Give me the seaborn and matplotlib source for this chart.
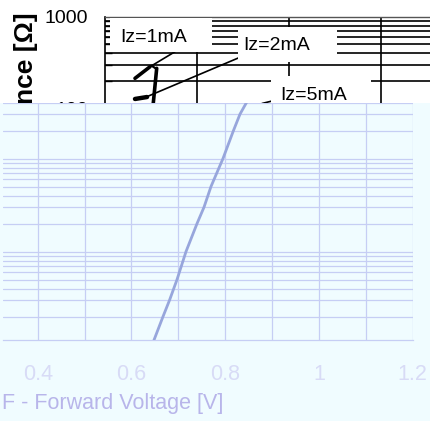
import matplotlib
matplotlib.use("Agg")
import matplotlib.pyplot as plt
import seaborn as sns
from matplotlib.patches import Rectangle
from matplotlib.ticker import FixedLocator, NullFormatter

# ---------------- data: lower chart (forward characteristic) ----------------
vf_volts = [0.6446, 0.6482, 0.6674, 0.6813, 0.6973, 0.7165, 0.7400, 0.7549,
            0.7698, 0.7954, 0.8178, 0.8317, 0.8456, 0.8552]
if_ma = [1.0, 1.12, 2, 3, 5, 10, 20, 30, 50, 100, 200, 300, 400, 500]
vf_ticks = [0.4, 0.6, 0.8, 1.0, 1.2]
vf_ticklabels = ["0.4", "0.6", "0.8", "1", "1.2"]
vf_minor = [0.5, 0.7, 0.9, 1.1]
vf_label = "F - Forward Voltage [V]"

# ---------------- data: upper chart (dynamic impedance, partly covered) ----------------
zz_x_grid = [1, 2, 3]
zz_major = [100, 1000]
zz_minor = [200, 300, 400, 500, 600, 700, 800, 900]
curve_thick_a_x = [0.326, 0.489]
curve_thick_a_y = [214, 286]
curve_thick_b_x = [0.562, 0.525, 0.52]
curve_thick_b_y = [275, 115.5, 100]
curve_blob_x = [0.326, 0.457]
curve_blob_y = [127.6, 134]
hook_x = [0.508, 0.562]
hook_y = [293, 270]
lead_1ma_x = [0.489, 0.761]
lead_1ma_y = [286, 417]
lead_2ma_x = [0.416, 1.5]
lead_2ma_y = [130, 374.6]
lead_5ma_x = [1.707, 1.859]
lead_5ma_y = [114, 124.3]
iz_labels = ["Iz=1mA", "Iz=2mA", "Iz=5mA"]
iz_label_x = [0.163, 1.5, 1.902]
iz_label_y = [531.8, 435.2, 124.3]
ylabel_top = "Zz - Dynamic Impedance [Ω]"

sns.set_theme(style="white")
plt.rcParams["font.family"] = ["Liberation Sans", "DejaVu Sans"]

W, H = 431, 421
fig = plt.figure(figsize=(W / 100, H / 100), dpi=100)
fig.patch.set_facecolor("white")


def frame(x0, y0, x1, y1):
    return [x0 / W, 1 - y1 / H, (x1 - x0) / W, (y1 - y0) / H]


# ---------------- upper (datasheet) axes ----------------
ax_t = fig.add_axes(frame(105, 16.8, 105 + 4 * 92, 16.8 + 2 * 91.9), zorder=0)
ax_t.set_facecolor("white")
ax_t.set_yscale("log")
ax_t.set_xlim(0, 4)
ax_t.set_ylim(10, 1000)
ax_t.yaxis.set_major_locator(FixedLocator(zz_major))
ax_t.yaxis.set_minor_locator(FixedLocator(zz_minor))
ax_t.yaxis.set_minor_formatter(NullFormatter())
ax_t.set_yticklabels([str(v) for v in zz_major])
ax_t.xaxis.set_major_locator(FixedLocator(zz_x_grid))
ax_t.set_xticklabels([])
ax_t.tick_params(axis="y", which="major", length=0, pad=12, labelsize=14, labelcolor="black")
ax_t.tick_params(axis="y", which="minor", direction="in", length=5, width=1, color="black", left=True)
ax_t.tick_params(axis="x", length=0)
ax_t.grid(True, which="both", axis="y", color="black", lw=1.2)
ax_t.grid(True, which="major", axis="x", color="black", lw=1.2)
ax_t.set_axisbelow(True)
for s in ["right", "bottom"]:
    ax_t.spines[s].set_visible(False)
ax_t.spines["left"].set_color("black")
ax_t.spines["left"].set_linewidth(1.2)
ax_t.spines["top"].set_color("#555555")
ax_t.spines["top"].set_linewidth(1.0)

for xs, ys, lw in [(curve_thick_a_x, curve_thick_a_y, 2.6),
                   (curve_thick_b_x, curve_thick_b_y, 2.6),
                   (curve_blob_x, curve_blob_y, 3.2),
                   (hook_x, hook_y, 1.6),
                   (lead_1ma_x, lead_1ma_y, 1.2),
                   (lead_2ma_x, lead_2ma_y, 1.2),
                   (lead_5ma_x, lead_5ma_y, 1.2)]:
    sns.lineplot(x=xs, y=ys, ax=ax_t, color="black", lw=lw, sort=False,
                 estimator=None, legend=False, zorder=2.5)

# white label backgrounds (pixel extents of the label boxes)
label_boxes_px = [(110, 18, 212, 52), (238, 27, 337, 62), (271, 76, 371, 112)]
for (x0, y0, x1, y1) in label_boxes_px:
    ax_t.add_patch(Rectangle((x0 / W, 1 - y1 / H), (x1 - x0) / W, (y1 - y0) / H,
                             transform=fig.transFigure, facecolor="white",
                             edgecolor="none", zorder=3))

for txt, xv, yv in zip(iz_labels, iz_label_x, iz_label_y):
    ax_t.text(xv, yv, txt, fontsize=14, color="black", ha="left", va="baseline", zorder=4)

fig.text(26 / W, 1 - 12 / H, ylabel_top, rotation=90, ha="center", va="top",
         fontsize=19, fontweight="bold", color="black", zorder=0.5)

# ---------------- cover for lower part ----------------
bg = "#f0fcff"
fig.add_artist(Rectangle((0, 0), 1, 1 - 102.5 / H, transform=fig.transFigure,
                         facecolor=bg, edgecolor="none", zorder=1))

# ---------------- lower axes ----------------
ax_b = fig.add_axes(frame(3, 102.5, 412.6, 340), zorder=2)
ax_b.set_facecolor(bg)
ax_b.set_yscale("log")
grid_c = "#c6cef4"
sns.lineplot(x=vf_volts, y=if_ma, ax=ax_b, color="#97a6dc", lw=2.0, sort=False,
             estimator=None, legend=False, zorder=3)
ax_b.set_ylim(1.12, 400)
ax_b.set_xlim(0.4 - (37.7 - 3) / 468.6, 1.2)
ax_b.xaxis.set_major_locator(FixedLocator(vf_ticks))
ax_b.xaxis.set_minor_locator(FixedLocator(vf_minor))
ax_b.set_xticklabels(vf_ticklabels)
ax_b.tick_params(axis="x", which="both", length=0, pad=17, labelsize=15.5,
                 labelcolor="#d8dbf6")
ax_b.tick_params(axis="y", which="both", length=0, labelleft=False)
ax_b.grid(True, which="both", axis="both", color=grid_c, lw=0.9)
ax_b.set_axisbelow(True)
for s in ["left", "right", "top"]:
    ax_b.spines[s].set_visible(False)
ax_b.spines["bottom"].set_color(grid_c)
ax_b.spines["bottom"].set_linewidth(0.9)
ax_b.set_xlabel("")
ax_b.set_ylabel("")

fig.text(2 / W, 1 - 404 / H, vf_label, ha="left", va="center", fontsize=15.5,
         color="#b8b5ea", zorder=3)

fig.savefig("out.png", dpi=100, facecolor="white")
